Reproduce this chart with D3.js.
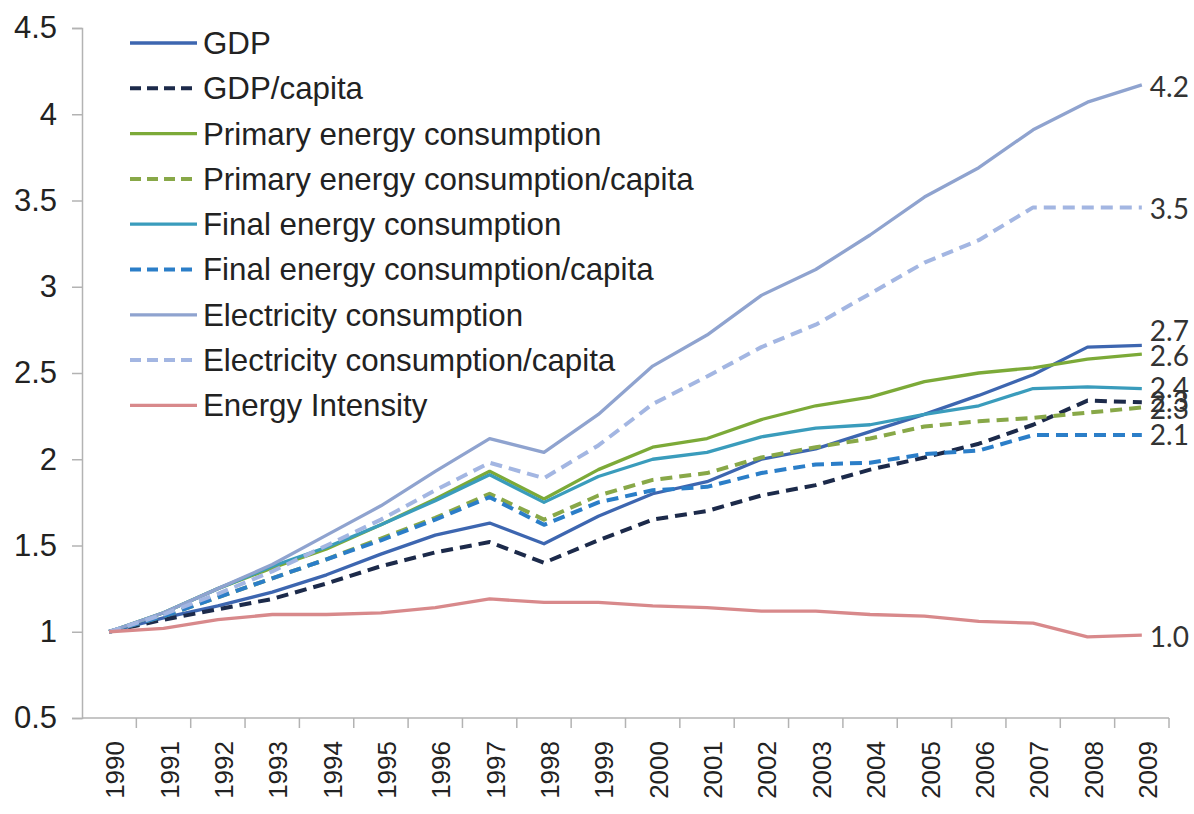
<!DOCTYPE html>
<html>
<head>
<meta charset="utf-8">
<script src="https://cdn.jsdelivr.net/npm/d3@7"></script>
<style>
  html, body { margin: 0; padding: 0; background: #ffffff; }
  svg { display: block; }
</style>
</head>
<body>
<svg id="chart" width="1194" height="814"></svg>
<script>
// Index values, 1990 = 1
const years = [1990, 1991, 1992, 1993, 1994, 1995, 1996, 1997, 1998, 1999,
               2000, 2001, 2002, 2003, 2004, 2005, 2006, 2007, 2008, 2009];

const gdp                 = [1.00, 1.08, 1.15, 1.23, 1.33, 1.45, 1.56, 1.63, 1.51, 1.67, 1.80, 1.87, 2.00, 2.06, 2.16, 2.26, 2.37, 2.49, 2.65, 2.66];
const gdpCapita           = [1.00, 1.07, 1.13, 1.19, 1.28, 1.38, 1.46, 1.52, 1.40, 1.53, 1.65, 1.70, 1.79, 1.85, 1.94, 2.01, 2.09, 2.20, 2.34, 2.33];
const primaryEnergy       = [1.00, 1.11, 1.25, 1.37, 1.48, 1.62, 1.77, 1.93, 1.77, 1.94, 2.07, 2.12, 2.23, 2.31, 2.36, 2.45, 2.50, 2.53, 2.58, 2.61];
const primaryEnergyCapita = [1.00, 1.09, 1.20, 1.31, 1.42, 1.54, 1.66, 1.80, 1.65, 1.79, 1.88, 1.92, 2.01, 2.07, 2.12, 2.19, 2.22, 2.24, 2.27, 2.30];
const finalEnergy         = [1.00, 1.11, 1.25, 1.38, 1.49, 1.62, 1.76, 1.91, 1.75, 1.90, 2.00, 2.04, 2.13, 2.18, 2.20, 2.26, 2.31, 2.41, 2.42, 2.41];
const finalEnergyCapita   = [1.00, 1.09, 1.20, 1.31, 1.42, 1.53, 1.65, 1.78, 1.62, 1.75, 1.82, 1.84, 1.92, 1.97, 1.98, 2.03, 2.05, 2.14, 2.14, 2.14];
const electricity         = [1.00, 1.11, 1.25, 1.39, 1.56, 1.73, 1.93, 2.12, 2.04, 2.26, 2.54, 2.72, 2.95, 3.10, 3.30, 3.52, 3.69, 3.91, 4.07, 4.17];
const electricityCapita   = [1.00, 1.10, 1.22, 1.35, 1.50, 1.65, 1.82, 1.98, 1.89, 2.08, 2.32, 2.48, 2.65, 2.78, 2.96, 3.14, 3.27, 3.46, 3.46, 3.46];
const energyIntensity     = [1.00, 1.02, 1.07, 1.10, 1.10, 1.11, 1.14, 1.19, 1.17, 1.17, 1.15, 1.14, 1.12, 1.12, 1.10, 1.09, 1.06, 1.05, 0.97, 0.98];

const seriesNames = [
  "GDP", "GDP/capita",
  "Primary energy consumption", "Primary energy consumption/capita",
  "Final energy consumption", "Final energy consumption/capita",
  "Electricity consumption", "Electricity consumption/capita",
  "Energy Intensity"
];
const seriesValues = [gdp, gdpCapita, primaryEnergy, primaryEnergyCapita,
  finalEnergy, finalEnergyCapita, electricity, electricityCapita, energyIntensity];

// Rounded end-of-line labels
const endLabels = ["2.7", "2.3", "2.6", "2.3", "2.4", "2.1", "4.2", "3.5", "1.0"];

const yTicks = [0.5, 1, 1.5, 2, 2.5, 3, 3.5, 4, 4.5];
const yTickLabels = ["0.5", "1", "1.5", "2", "2.5", "3", "3.5", "4", "4.5"];

// Styling
const colors = ["#3d66b0", "#1c2a4a", "#7caa38", "#88a848", "#3a9cbc",
                "#2b7ec8", "#8fa3cf", "#a3b6e2", "#d8898b"];
const dashed = [false, true, false, true, false, true, false, true, false];
const labelShift = [-14, 0, 2, 2, 0, 0, 2, 2, 2];

const svg = d3.select("#chart");
const plotLeft = 82, plotRight = 1169, plotTop = 28, plotBottom = 718;

const x = d3.scaleBand().domain(years).range([plotLeft, plotRight]).padding(0);
const cx = d => x(d) + x.bandwidth() / 2;
const y = d3.scaleLinear().domain([0.5, 4.5]).range([plotBottom, plotTop]);

const axisColor = "#b3b3b3";
const textColor = "#222222";

// Y axis
const yAxis = svg.append("g")
  .attr("transform", `translate(${plotLeft},0)`)
  .call(d3.axisLeft(y).tickValues(yTicks)
    .tickFormat((d, i) => yTickLabels[i]).tickSize(10).tickPadding(15));
yAxis.select(".domain").attr("stroke", axisColor).attr("stroke-width", 1.5);
yAxis.selectAll(".tick line").attr("stroke", axisColor).attr("stroke-width", 1.5);
yAxis.selectAll(".tick text")
  .attr("fill", textColor)
  .style("font-family", "'Liberation Sans', Arial, sans-serif")
  .style("font-size", "31px");

// X axis: baseline with tick marks between categories
const xAxis = svg.append("g").attr("transform", `translate(0,${plotBottom})`);
xAxis.append("line")
  .attr("x1", plotLeft).attr("x2", plotRight)
  .attr("stroke", axisColor).attr("stroke-width", 1.5);
const boundaries = years.map(d => x(d)).concat([x(years[years.length - 1]) + x.bandwidth()]);
xAxis.selectAll("line.tick").data(boundaries.slice(1)).enter().append("line")
  .attr("class", "tick")
  .attr("x1", d => d).attr("x2", d => d)
  .attr("y1", 0).attr("y2", 10)
  .attr("stroke", axisColor).attr("stroke-width", 1.5);
xAxis.selectAll("text.year").data(years).enter().append("text")
  .attr("class", "year")
  .attr("transform", d => `translate(${cx(d) + 6},23) rotate(-90)`)
  .attr("text-anchor", "end")
  .attr("dy", "0.35em")
  .attr("fill", textColor)
  .style("font-family", "'Liberation Sans', Arial, sans-serif")
  .style("font-size", "26px")
  .text(d => d);

// Lines
const line = d3.line()
  .x((d, i) => cx(years[i]))
  .y(d => y(d));

const plot = svg.append("g");
seriesValues.forEach((vals, s) => {
  plot.append("path")
    .datum(vals)
    .attr("fill", "none")
    .attr("stroke", colors[s])
    .attr("stroke-width", dashed[s] ? 4 : 3.3)
    .attr("stroke-linejoin", "round")
    .attr("stroke-dasharray", dashed[s] ? "12,7" : null)
    .attr("d", line);
});

// End labels
const lastYear = years[years.length - 1];
seriesValues.forEach((vals, s) => {
  svg.append("text")
    .attr("x", cx(lastYear) + 8)
    .attr("y", y(vals[vals.length - 1]) + labelShift[s])
    .attr("dy", "0.35em")
    .attr("fill", "#333333")
    .style("font-family", "Lato, 'Open Sans', sans-serif")
    .style("font-size", "28px")
    .text(endLabels[s]);
});

// Legend
const legend = svg.append("g");
seriesNames.forEach((name, s) => {
  const ly = 43 + s * 45.3;
  legend.append("line")
    .attr("x1", 130).attr("x2", 197)
    .attr("y1", ly).attr("y2", ly)
    .attr("stroke", colors[s])
    .attr("stroke-width", dashed[s] ? 4 : 3.3)
    .attr("stroke-dasharray", dashed[s] ? "11,6" : null);
  legend.append("text")
    .attr("x", 203).attr("y", ly)
    .attr("dy", "0.35em")
    .attr("fill", textColor)
    .style("font-family", "'Liberation Sans', Arial, sans-serif")
    .style("font-size", "31.3px")
    .text(name);
});
</script>
</body>
</html>
